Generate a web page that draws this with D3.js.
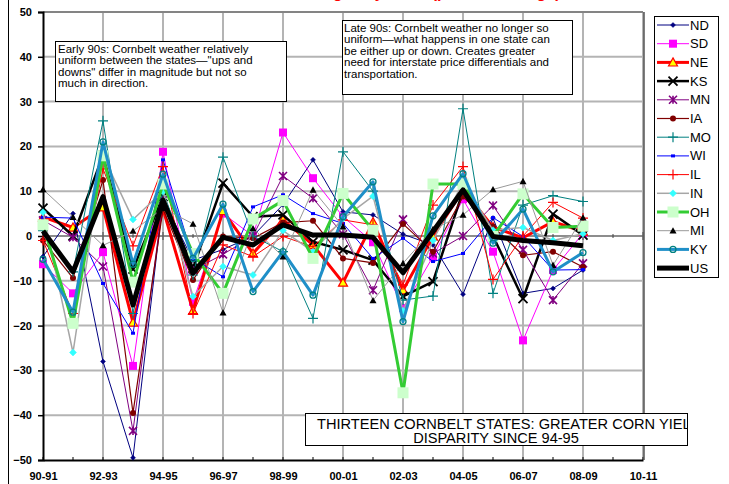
<!DOCTYPE html>
<html><head><meta charset="utf-8">
<script src="https://cdn.jsdelivr.net/npm/d3@7"></script>
<style>body{margin:0;background:#fff;}svg{display:block;font-family:"Liberation Sans",Arial,sans-serif;}</style>
</head><body><svg id="c" width="729" height="484"></svg>
<script>
const seasons = ["90-91","91-92","92-93","93-94","94-95","95-96","96-97","97-98","98-99","99-00","00-01","01-02","02-03","03-04","04-05","05-06","06-07","07-08","08-09","09-10","10-11"];
const yTicks = [50,40,30,20,10,0,-10,-20,-30,-40,-50];
const ND = [-4.6,5.0,-28,-49.5,8,-5.4,-3,0,7,17,5.4,4.7,0.4,-2,-13,4,-12.8,-11.7,-7.6];
const SD = [-6.3,-12.8,-3.6,-29,18.8,-14.7,5,0,23.1,12.9,4.3,-1.4,-16.1,-4.6,8.2,-3.5,-23.3,-7.6,0.6];
const NE = [4.2,1.9,6.4,-19.3,6,-16.7,5.6,-3.9,3.6,-2,-10.4,3.1,-12.1,-0.1,10.3,2,-0.4,3.2,1];
const KS = [6.2,0,18,-7.4,8.8,-7.2,11.8,4.3,4.7,-1.3,-3.1,-5.4,-13.5,-10.2,10,0,-14,4.9,0.2];
const MN = [3.5,-0.3,-6.8,-43.5,8,-7.6,-4.1,0,13.4,8.4,0.4,-12.1,3.7,-3.9,0,6.8,-3.1,-14.3,-6.1];
const IA = [-1,-9.4,12.5,-39.5,6,-9.8,-0.1,-0.5,3,3.4,-5,-6,2.7,-3.5,8.8,2.1,-4.3,-3.5,-6.9];
const MO = [1.2,-8,25.7,-17.3,10,-8.7,17.6,0,-3.5,-18.4,18.8,10,-14.3,-13.4,28.4,-12.8,6.9,9,7.7];
const WI = [4.2,4,-10.6,-21.7,17,-5,-9.1,6.5,9.2,5,2.8,-5,-0.5,-5.7,-3.9,4.1,-0.1,-7.6,-7.5];
const IL = [-1,-17.3,15,-2.2,15.5,-17.3,-2,-4.6,-0.1,-2.4,3.6,2.5,-10.9,6.9,15.5,-9.7,0,7.5,4];
const IN = [5.3,-26,18,3.7,10,-13.5,-6.8,-8.7,1.2,-3.5,3.9,8.9,-16.7,-1,12,1.3,1.9,-1,0.5];
const OH = [2.5,-19.5,17.9,-10.3,11.6,-3.9,-12.8,3.8,7.9,-5,9.5,1.3,-35,11.6,11.6,-0.1,9.4,1.9,2.2];
const MI = [10.4,4.2,-2.1,1.1,6.2,2.7,-17.1,1.7,-4.6,10.3,2.1,-14.4,-6.1,1.5,4.7,10.4,12.2,-6.5,4.1];
const KY = [-5.2,-17,21,-6.3,13.8,-5,7.1,-12.4,-3.5,-13.2,4.3,12.1,-19.1,4.5,13.9,-1.6,6,-8,-3.7];
const US = [1.1,-8,8.8,-15.4,8,-8.3,-0.3,-2,2.5,0.2,0.2,-0.3,-8.2,1,10.3,-0.1,-1,-1.5,-2.2];
const seriesNames = ["ND","SD","NE","KS","MN","IA","MO","WI","IL","IN","OH","MI","KY","US"];
const seriesData = [ND,SD,NE,KS,MN,IA,MO,WI,IL,IN,OH,MI,KY,US];
const note1 = ["Early 90s: Cornbelt weather relatively","uniform between the states\u2014\"ups and","downs\" differ in magnitude but not so","much in direction."];
const note2 = ["Late 90s: Cornbelt weather no longer so","uniform\u2014what happens in one state can","be either up or down.  Creates greater","need for interstate price differentials and","transportation."];
const note3 = ["THIRTEEN CORNBELT STATES: GREATER CORN YIELD","DISPARITY SINCE 94-95"];
const titleText = "Corn Yield Changes by State (percent change)";

const styles = {
  ND:{c:"#000080",w:1,m:"diamond",ms:5,mf:"#000080",mc:"#000080"},
  SD:{c:"#FF00FF",w:1,m:"square",ms:8,mf:"#FF00FF",mc:"#FF00FF"},
  NE:{c:"#FF0000",w:3,m:"triangle",ms:9,mf:"#FFFF00",mc:"#FF0000"},
  KS:{c:"#000000",w:2.5,m:"x",ms:9,mf:"none",mc:"#000000"},
  MN:{c:"#800080",w:1,m:"asterisk",ms:8,mf:"none",mc:"#800080"},
  IA:{c:"#800000",w:1.2,m:"circle",ms:6,mf:"#800000",mc:"#800000"},
  MO:{c:"#008080",w:1,m:"plus",ms:10,mf:"none",mc:"#008080"},
  WI:{c:"#0000FF",w:1,m:"dash",ms:5,mf:"#0000FF",mc:"#0000FF"},
  IL:{c:"#FF0000",w:1,m:"vbar",ms:10,mf:"none",mc:"#FF0000"},
  IN:{c:"#A6A6A6",w:1.5,m:"diamond",ms:7,mf:"#33FFFF",mc:"#33FFFF"},
  OH:{c:"#33CC33",w:3,m:"square",ms:11,mf:"#CCFFCC",mc:"#CCFFCC"},
  MI:{c:"#999999",w:1,m:"triangle",ms:7,mf:"#000000",mc:"#000000"},
  KY:{c:"#1F8FC8",w:3,m:"ocircle",ms:7,mf:"#CCFFFF",mc:"#008080"},
  US:{c:"#000000",w:5,m:"none",ms:0}
};

const svg = d3.select("#c");
const L=43,R=643,T=12,B=460;
const x = d3.scaleLinear().domain([0,seasons.length-1]).range([L,R]);
const y = d3.scaleLinear().domain([-50,50]).range([B,T]);

svg.append("line").attr("x1",8.5).attr("x2",8.5).attr("y1",0).attr("y2",484).attr("stroke","#000").attr("stroke-width",1);

svg.append("text").attr("x",385).attr("y",-2).attr("text-anchor","middle").attr("font-size",16).attr("font-weight","bold").attr("fill","#FF0000").text(titleText);

const g = svg.append("g");
yTicks.filter(v=>v>-50).forEach(v=>{
  g.append("line").attr("x1",L).attr("x2",R).attr("y1",y(v)).attr("y2",y(v)).attr("stroke","#B4B4B4").attr("stroke-width",2);
});
d3.range(2,seasons.length,2).forEach(i=>{
  g.append("line").attr("x1",x(i)).attr("x2",x(i)).attr("y1",T).attr("y2",B).attr("stroke","#B4B4B4").attr("stroke-width",2);
});
g.append("line").attr("x1",L).attr("x2",R).attr("y1",T).attr("y2",T).attr("stroke","#555").attr("stroke-width",1);
g.append("line").attr("x1",L).attr("x2",R).attr("y1",y(0)).attr("y2",y(0)).attr("stroke","#666").attr("stroke-width",1);
d3.range(0,seasons.length).forEach(i=>{
  const big = i%2===0;
  g.append("line").attr("x1",x(i)).attr("x2",x(i)).attr("y1",y(0)-(big?4:2)).attr("y2",y(0)+(big?4:2)).attr("stroke","#444").attr("stroke-width",1);
});
const xAxis = d3.axisBottom(x).tickValues(d3.range(0,seasons.length,2)).tickFormat(i=>seasons[i]).tickSize(0).tickPadding(12);
const xa = svg.append("g").attr("transform",`translate(0,${B})`).call(xAxis);
xa.select(".domain").attr("stroke","#000").attr("stroke-width",2);
xa.selectAll("text").attr("font-size",11).attr("font-weight","bold").attr("font-family","'Liberation Sans',Arial,sans-serif").attr("fill","#000");
d3.range(0,seasons.length).forEach(i=>{
  svg.append("line").attr("x1",x(i)).attr("x2",x(i)).attr("y1",B-3).attr("y2",B).attr("stroke","#000").attr("stroke-width",1);
});
const yAxis = d3.axisLeft(y).tickValues(yTicks).tickSize(5).tickPadding(6).tickFormat(d3.format("d"));
const ya = svg.append("g").attr("transform",`translate(${L},0)`).call(yAxis);
ya.select(".domain").attr("stroke","#000").attr("stroke-width",2);
ya.selectAll(".tick line").attr("stroke","#000").attr("stroke-width",1.5);
ya.selectAll("text").attr("font-size",11).attr("font-weight","bold").attr("font-family","'Liberation Sans',Arial,sans-serif").attr("fill","#000");
svg.append("line").attr("x1",R+1).attr("x2",R+1).attr("y1",T).attr("y2",B).attr("stroke","#555").attr("stroke-width",1.5);

function drawMarker(sel,st,cx,cy){
  const s=st.ms, h=s/2;
  switch(st.m){
    case "diamond": sel.append("path").attr("d",`M${cx},${cy-h}L${cx+h},${cy}L${cx},${cy+h}L${cx-h},${cy}Z`).attr("fill",st.mf).attr("stroke",st.mc).attr("stroke-width",0.5); break;
    case "square": sel.append("rect").attr("x",cx-h).attr("y",cy-h).attr("width",s).attr("height",s).attr("fill",st.mf); break;
    case "triangle": sel.append("path").attr("d",`M${cx},${cy-h}L${cx+h},${cy+h*0.8}L${cx-h},${cy+h*0.8}Z`).attr("fill",st.mf).attr("stroke",st.mc).attr("stroke-width",st.mf==="#000000"?0:1.2); break;
    case "x": sel.append("path").attr("d",`M${cx-h},${cy-h}L${cx+h},${cy+h}M${cx-h},${cy+h}L${cx+h},${cy-h}`).attr("stroke",st.mc).attr("stroke-width",1.8).attr("fill","none"); break;
    case "asterisk": sel.append("path").attr("d",`M${cx-h},${cy-h}L${cx+h},${cy+h}M${cx-h},${cy+h}L${cx+h},${cy-h}M${cx},${cy-h}L${cx},${cy+h}`).attr("stroke",st.mc).attr("stroke-width",1.6).attr("fill","none"); break;
    case "circle": sel.append("circle").attr("cx",cx).attr("cy",cy).attr("r",h).attr("fill",st.mf); break;
    case "ocircle": sel.append("circle").attr("cx",cx).attr("cy",cy).attr("r",h-0.5).attr("fill","none").attr("stroke",st.mc).attr("stroke-width",1.3); break;
    case "plus": case "vbar": sel.append("path").attr("d",`M${cx-h},${cy}L${cx+h},${cy}M${cx},${cy-h}L${cx},${cy+h}`).attr("stroke",st.mc).attr("stroke-width",1.2).attr("fill","none"); break;
    case "dash": sel.append("rect").attr("x",cx-h*0.8).attr("y",cy-1.5).attr("width",s*0.8).attr("height",3).attr("fill",st.mf); break;
  }
}

const line = d3.line().x((d,i)=>x(i)).y(d=>y(d));
const plot = svg.append("g");
seriesNames.forEach((n,k)=>{
  const st=styles[n], data=seriesData[k];
  const gg=plot.append("g");
  gg.append("path").attr("d",line(data)).attr("fill","none").attr("stroke",st.c).attr("stroke-width",st.w).attr("stroke-linejoin","round");
  if(st.m!=="none") data.forEach((v,i)=>drawMarker(gg,st,x(i),y(v)));
});

const lg = svg.append("g");
lg.append("rect").attr("x",654.5).attr("y",16.5).attr("width",64).attr("height",261).attr("fill","#fff").attr("stroke","#000").attr("stroke-width",1);
seriesNames.forEach((n,k)=>{
  const st=styles[n], yy=25+k*18.7;
  lg.append("line").attr("x1",657).attr("x2",689).attr("y1",yy).attr("y2",yy).attr("stroke",st.c).attr("stroke-width",st.w);
  if(st.m!=="none") drawMarker(lg,st,673,yy);
  lg.append("text").attr("x",690).attr("y",yy+4.5).attr("font-size",13).attr("fill","#000").text(n);
});

function noteBox(id,x0,y0,w,h){
  svg.append("clipPath").attr("id",id).append("rect").attr("x",x0).attr("y",y0).attr("width",w).attr("height",h);
  const gg=svg.append("g");
  gg.append("rect").attr("x",x0+0.5).attr("y",y0+0.5).attr("width",w).attr("height",h).attr("fill","#fff").attr("stroke","#000").attr("stroke-width",1);
  return gg.append("g").attr("clip-path",`url(#${id})`);
}
const b1=noteBox("n1",55,41,231,60);
note1.forEach((t,i)=>b1.append("text").attr("x",58).attr("y",52.5+11.6*i).attr("font-size",11.5).text(t));
const b2=noteBox("n2",342,20,230,74);
note2.forEach((t,i)=>b2.append("text").attr("x",344).attr("y",31.5+11.6*i).attr("font-size",11.5).text(t));
const b3=noteBox("n3",305,413,382,32);
b3.append("text").attr("x",317).attr("y",428.5).attr("font-size",14.6).text(note3[0]);
b3.append("text").attr("x",496).attr("y",443).attr("text-anchor","middle").attr("font-size",14.6).text(note3[1]);
</script></body></html>
